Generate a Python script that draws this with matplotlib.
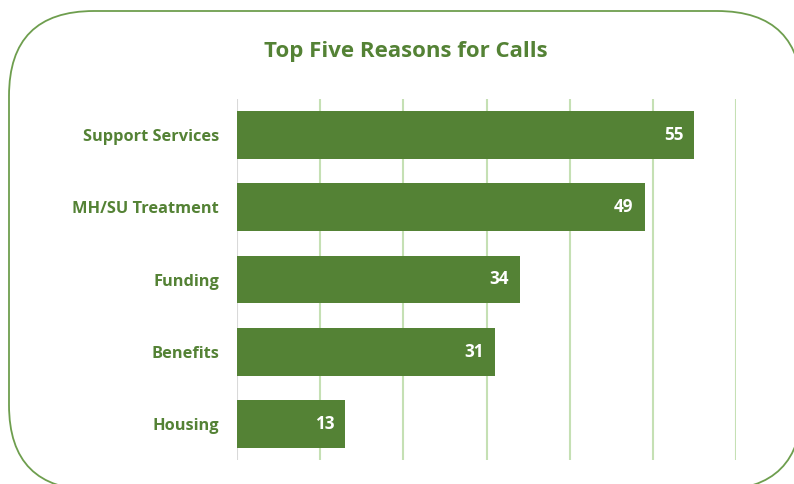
import matplotlib.pyplot as plt
from matplotlib.patches import FancyBboxPatch

categories = ["Support Services", "MH/SU Treatment", "Funding", "Benefits", "Housing"]
calls = [55, 49, 34, 31, 13]
grid_ticks = [10, 20, 30, 40, 50, 60]

green = "#548235"
grid_green = "#c5e0b4"
font = "Open Sans"

W, H = 794, 484
fig = plt.figure(figsize=(W / 100, H / 100), dpi=100)

# rounded frame drawn in pixel space
bg = fig.add_axes([0, 0, 1, 1])
bg.set_xlim(0, W)
bg.set_ylim(H, 0)
bg.axis("off")
frame = FancyBboxPatch((9 + 85, 11 + 85), 802 - 9 - 170, 490 - 11 - 170,
                       boxstyle="round,pad=85", fc="white", ec="#6e9e4e", lw=1.3)
bg.add_patch(frame)
bg.text(406, 51, "Top Five Reasons for Calls", ha="center", va="center",
        fontsize=16, fontweight="bold", color=green, family=font)

ax = fig.add_axes([237 / W, 1 - 460 / H, 499 / W, 361 / H])
ypos = list(range(len(categories)))
ax.barh(ypos, calls, height=0.66, color=green, zorder=3)
ax.set_xlim(0, 60)
ax.set_ylim(len(categories) - 0.5, -0.5)
ax.set_facecolor("none")
for s in ax.spines.values():
    s.set_visible(False)
ax.axvline(0, color="#d9d9d9", lw=1.5, zorder=2)
for t in grid_ticks:
    ax.axvline(t, color=grid_green, lw=1.5, zorder=1)
ax.set_xticks([])
ax.set_yticks(ypos)
ax.set_yticklabels(categories, fontsize=11.8, fontweight="bold", color=green, family=font)
ax.tick_params(axis="y", length=0, pad=13)

for y, v in zip(ypos, calls):
    ax.text(v - 1.3, y, str(v), ha="right", va="center", color="white",
            fontsize=12.3, fontweight="bold", family=font, zorder=4)

fig.savefig("out.png", dpi=100)
